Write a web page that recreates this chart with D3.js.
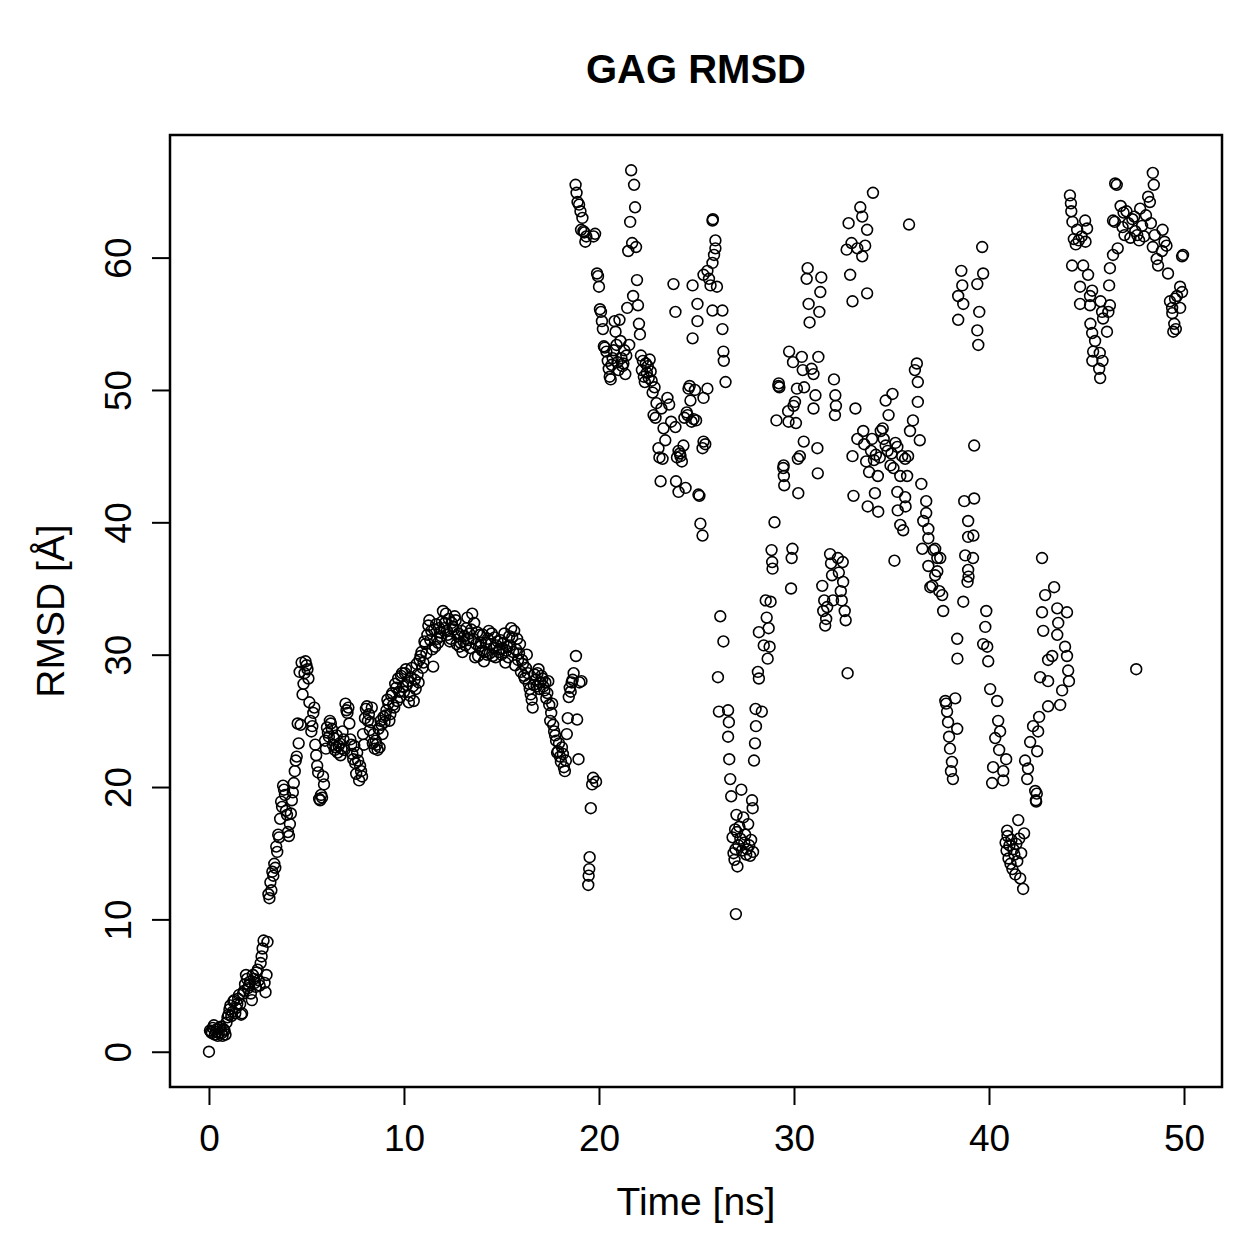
<!DOCTYPE html>
<html>
<head>
<meta charset="utf-8">
<script src="https://cdn.jsdelivr.net/npm/d3@7"></script>
<style>
  body { margin: 0; background: #fff; }
  svg text { font-family: "Liberation Sans", Arial, Helvetica, sans-serif; fill: #000; }
</style>
</head>
<body>
<div id="chart"></div>
<script>
// RMSD of the GAG over the trajectory, time in ns, RMSD in Å
// first part: frames every 0.1 ns from 0 ns, and the frames in between (from 0.05 ns)
var rmsdStart = 0, rmsdStep = 0.1;
var rmsdEarly = [
  0.0, 1.5, 1.8, 1.3, 1.7, 1.4, 1.9, 1.2, 1.6, 2.2,
  2.8, 3.5, 3.0, 3.9, 3.3, 4.0, 3.6, 2.9, 4.6, 5.8,
  4.8, 5.3, 3.9, 5.5, 4.9, 6.2, 5.0, 7.2, 8.4, 4.5,
  8.3, 11.6, 12.2, 13.3, 13.9, 15.1, 16.2, 18.9, 20.1, 19.4,
  17.9, 16.3, 18.0, 19.6, 21.2, 22.3, 23.3, 24.7, 27.0, 28.6,
  29.2, 28.2, 25.0, 24.6, 26.0, 22.4, 21.1, 19.0, 19.2, 20.2,
  22.9, 24.1, 25.0, 24.4, 23.7, 23.0, 22.6, 23.3, 22.9, 23.6,
  26.3, 25.6, 24.8, 23.2, 22.1, 21.8, 22.6, 20.5, 21.2, 24.0,
  25.2, 26.1, 25.5, 24.9, 23.3, 22.9, 23.2, 24.4, 25.0, 24.0,
  24.9, 25.8, 26.3, 25.5, 27.1, 26.0, 27.5, 28.2, 26.8, 28.6,
  27.2, 28.9, 28.0, 26.9, 29.0, 26.5, 27.4, 28.5, 29.6, 30.2,
  29.4, 30.8, 31.5, 32.6, 31.8, 29.1, 30.6, 31.2, 32.0, 31.4,
  33.3, 32.4, 31.8, 32.7, 31.2, 32.1, 32.9, 30.8, 31.6, 30.9,
  30.2, 31.4, 32.0, 31.1, 30.5, 33.1, 32.4, 30.8, 29.9, 31.5,
  30.3, 29.5, 30.9, 31.2, 30.1, 31.6, 30.5, 29.8, 31.0, 30.4,
  30.0, 30.9, 29.4, 30.6, 31.4, 32.0, 30.2, 29.2, 31.2, 30.1,
  28.7, 29.3, 28.2, 30.0, 27.8, 27.0, 26.0, 28.5, 27.6, 28.9,
  27.9, 28.2, 27.3, 26.7, 28.0, 25.0, 26.3, 24.2, 23.5, 22.7,
  22.3, 23.0, 21.5, 22.0, 25.2, 27.5, 27.9, 28.6
];
var rmsdMidStart = 0.05;
var rmsdEarlyMid = [
  1.6, 1.4, 2.0, 1.5, 1.2, 1.8, 1.4, 1.7, 1.3, 2.6,
  3.2, 2.7, 3.8, 2.9, 3.6, 4.3, 2.8, 4.4, 5.1, 5.5,
  5.0, 4.4, 5.8, 5.2, 6.0, 5.4, 6.7, 7.8, 5.2, 5.8,
  11.9, 12.8, 13.6, 14.2, 15.5, 16.4, 17.6, 18.5, 19.8, 18.2,
  16.6, 17.2, 19.0, 20.3, 22.0, 24.8, 28.7, 29.4, 27.8, 29.5,
  28.9, 26.4, 24.2, 25.6, 23.2, 21.6, 19.1, 19.4, 20.8, 23.5,
  24.5, 23.8, 24.8, 23.2, 22.8, 23.9, 23.1, 22.4, 24.2, 22.8,
  25.8, 26.0, 23.6, 22.5, 23.1, 21.0, 22.0, 21.6, 20.8, 23.2,
  25.9, 25.0, 24.3, 26.0, 24.0, 23.5, 22.8, 23.0, 24.7, 25.3,
  25.4, 26.6, 25.0, 26.9, 26.2, 27.8, 26.5, 27.2, 28.4, 27.6,
  28.6, 27.7, 26.4, 28.3, 27.6, 28.1, 29.3, 27.9, 29.9, 29.0,
  31.0, 30.1, 32.2, 31.1, 30.4, 31.9, 32.3, 30.9, 31.7, 32.5,
  32.0, 33.1, 31.5, 31.0, 32.4, 31.9, 32.6, 31.4, 30.6, 31.8,
  31.0, 30.7, 32.8, 31.6, 31.9, 31.2, 29.8, 31.7, 30.6, 30.9,
  31.5, 30.2, 30.0, 31.8, 30.8, 29.9, 31.3, 30.7, 30.2, 31.1,
  30.5, 31.6, 30.3, 29.8, 30.7, 31.3, 31.8, 30.4, 29.6, 30.8,
  29.6, 28.4, 29.0, 28.6, 27.4, 26.6, 27.7, 28.1, 28.6, 27.4,
  28.4, 27.6, 27.9, 27.1, 26.2, 25.6, 24.7, 23.9, 22.6, 23.3,
  21.9, 22.5, 21.2, 24.0, 26.8, 27.2, 28.1
];

// later part, where the RMSD jumps between levels: [time, rmsd]
var late19to22 = [
  [18.80,65.5],[18.82,29.9],[18.85,64.9],[18.88,25.1],[18.90,64.2],[18.95,22.1],[18.98,64.0],[19.00,27.9],
  [19.05,63.5],[19.08,62.1],[19.10,28.0],[19.15,63.0],[19.20,62.0],[19.25,61.9],[19.30,61.2],[19.35,61.6],
  [19.45,12.6],[19.47,13.3],[19.50,13.8],[19.52,14.7],[19.58,18.4],[19.65,20.2],[19.70,20.7],[19.72,61.6],
  [19.80,61.8],[19.85,20.4],[19.90,58.8],[19.95,58.6],[20.00,57.8],[20.05,56.1],[20.10,55.9],[20.15,55.2],
  [20.20,54.6],[20.25,53.3],[20.30,53.2],[20.38,52.9],[20.45,52.2],[20.50,51.6],[20.55,51.0],[20.60,50.8],
  [20.65,51.9],[20.70,52.4],[20.75,53.0],[20.80,55.2],[20.85,54.4],[20.90,53.4],[20.95,52.1],[21.00,51.5],
  [21.05,55.3],[21.10,53.7],[21.15,52.4],[21.20,51.8],[21.25,52.0],[21.30,53.0],[21.35,51.2],[21.40,52.6],
  [21.45,56.2],[21.50,60.5],[21.55,53.4],[21.60,62.7],[21.65,66.6],[21.70,61.1],[21.75,57.1],[21.80,65.5],
  [21.85,63.8],[21.90,60.8],[21.95,58.3],[22.00,56.4],[22.05,55.0],[22.10,54.2],[22.15,52.6],[22.20,51.5],
  [22.25,52.2],[22.30,51.0],[22.35,50.6],[22.40,52.0],[22.45,51.3]
];
var late22to27 = [
  [22.50,51.8],[22.55,50.9],[22.60,52.3],[22.65,51.4],[22.70,50.7],[22.75,49.8],[22.80,48.1],[22.85,50.2],
  [22.90,47.9],[22.95,49.0],[23.05,45.6],[23.10,44.9],[23.16,43.1],[23.20,48.6],[23.26,44.8],[23.31,47.1],
  [23.40,46.2],[23.51,49.4],[23.60,48.9],[23.70,47.6],[23.82,58.0],[23.92,55.9],[23.92,47.2],[23.95,43.1],
  [24.00,44.9],[24.08,45.4],[24.08,42.3],[24.15,45.2],[24.18,45.0],[24.25,44.6],[24.33,45.8],[24.38,47.9],
  [24.44,42.6],[24.50,48.3],[24.54,48.1],[24.59,50.1],[24.65,50.3],[24.69,49.2],[24.75,47.6],[24.80,57.9],
  [24.80,53.9],[24.85,47.8],[24.92,50.0],[24.98,47.7],[25.05,56.5],[25.05,55.2],[25.10,42.1],[25.15,42.0],
  [25.20,39.9],[25.31,39.0],[25.31,45.6],[25.36,46.1],[25.36,49.4],[25.36,58.7],[25.45,45.9],[25.56,59.0],
  [25.56,50.1],[25.64,58.4],[25.72,57.9],[25.82,62.8],[25.84,62.9],[25.82,59.6],[25.90,60.2],[25.97,61.3],
  [25.97,60.7],[25.82,56.0],[26.05,57.8],[26.10,28.3],[26.15,25.7],[26.22,32.9],[26.33,56.0],[26.33,54.6],
  [26.38,31.0],[26.38,52.9],[26.40,52.2],[26.49,50.6],[26.62,25.8],[26.66,24.9],[26.62,23.8],[26.68,22.1],
  [26.73,20.6],[26.78,19.3]
];
var late27to31 = [
  [26.85,16.2],[26.90,15.0],[26.95,14.5],[26.98,16.8],[27.00,15.3],[27.02,10.4],[27.05,17.9],[27.08,16.6],
  [27.10,14.0],[27.15,15.6],[27.20,17.0],[27.25,16.1],[27.30,19.8],[27.33,15.2],[27.40,17.7],[27.45,15.8],
  [27.50,16.4],[27.55,14.9],[27.60,15.3],[27.65,17.2],[27.70,15.6],[27.75,14.8],[27.80,16.0],[27.85,19.0],
  [27.88,18.4],[27.90,15.1],[27.95,22.0],[28.00,23.3],[28.05,24.6],[28.03,25.9],[28.15,28.7],[28.20,28.2],
  [28.20,31.7],[28.35,25.7],[28.45,30.7],[28.55,34.1],[28.60,32.8],[28.65,29.7],[28.70,32.0],[28.75,30.6],
  [28.80,34.0],[28.85,37.9],[28.88,37.0],[28.90,36.5],[29.00,40.0],[29.10,47.7],[29.20,50.3],[29.22,50.5],
  [29.25,50.2],[29.45,44.1],[29.47,44.3],[29.48,43.5],[29.50,42.8],[29.70,48.4],[29.72,47.6],[29.75,52.9],
  [29.85,35.0],[29.88,37.3],[29.92,38.0],[29.95,52.1],[29.98,48.8],[30.05,49.1],[30.10,47.5],[30.15,50.1],
  [30.20,44.8],[30.22,42.2],[30.30,45.0],[30.40,52.5],[30.45,51.5],[30.50,46.1],[30.52,50.2],[30.65,58.4],
  [30.70,59.2],[30.75,56.5],[30.80,55.1],[30.90,51.6],[31.00,51.2],[31.00,48.6],[31.10,49.6],[31.20,45.6],
  [31.22,43.7],[31.25,52.5],[31.30,55.9],[31.35,57.4],[31.40,58.5]
];
var late31to36 = [
  [31.45,35.2],[31.50,33.3],[31.55,34.1],[31.60,32.2],[31.65,32.7],[31.70,33.6],[31.85,37.6],[31.90,36.9],
  [31.95,36.0],[32.00,34.1],[32.05,50.8],[32.12,49.6],[32.15,48.8],[32.10,48.1],[32.25,37.3],[32.30,36.2],
  [32.40,34.8],[32.45,34.1],[32.50,37.0],[32.52,35.5],[32.60,33.3],[32.65,32.6],[32.70,60.6],[32.75,28.6],
  [32.80,62.6],[32.88,58.7],[32.95,61.1],[33.00,56.7],[33.00,45.0],[33.05,42.0],[33.15,48.6],[33.25,46.3],
  [33.25,60.7],[33.40,63.8],[33.50,63.1],[33.50,60.1],[33.55,46.9],[33.60,45.9],[33.65,60.9],[33.70,44.6],
  [33.75,62.1],[33.75,57.3],[33.78,41.2],[33.85,43.8],[33.95,45.4],[34.00,46.3],[34.05,64.9],[34.10,44.7],
  [34.15,42.2],[34.20,45.1],[34.30,43.5],[34.32,40.8],[34.40,44.9],[34.45,46.9],[34.55,47.1],[34.60,46.3],
  [34.70,45.8],[34.70,49.2],[34.80,45.4],[34.85,48.1],[34.95,44.3],[35.00,45.2],[35.05,49.7],[35.10,44.1],
  [35.15,37.1],[35.20,46.0],[35.30,45.7],[35.30,42.3],[35.32,40.9],[35.45,43.5],[35.45,39.8],[35.55,45.0],
  [35.60,39.4],[35.70,44.8],[35.70,41.9],[35.72,41.2],[35.80,43.5],[35.85,45.0],[35.90,62.5],[35.95,46.9],
  [36.10,47.7],[36.20,51.5],[36.30,52.0],[36.35,50.6],[36.35,49.1],[36.45,46.2]
];
var late36to40 = [
  [36.53,42.9],[36.58,38.0],[36.63,40.1],[36.78,41.6],[36.78,40.7],[36.89,39.5],[36.89,38.8],[36.89,36.7],
  [36.99,35.1],[37.09,35.2],[37.15,37.9],[37.24,38.0],[37.24,36.0],[37.35,37.3],[37.35,36.3],[37.45,34.8],
  [37.50,37.3],[37.60,34.5],[37.65,33.3],[37.76,26.5],[37.80,26.3],[37.85,25.7],[37.90,24.9],[37.95,23.8],
  [38.00,22.9],[38.05,21.2],[38.10,21.9],[38.15,20.6],[38.27,26.7],[38.37,24.4],[38.37,31.2],[38.38,29.7],
  [38.42,57.1],[38.42,55.3],[38.58,59.0],[38.63,57.9],[38.68,56.5],[38.68,34.0],[38.73,41.6],[38.78,37.5],
  [38.93,40.1],[38.93,38.9],[38.93,36.4],[38.95,35.9],[38.90,35.5],[39.24,41.8],[39.20,39.0],[39.18,37.3],
  [39.24,45.8],[39.40,58.0],[39.40,54.5],[39.45,53.4],[39.50,55.9],[39.65,60.8],[39.70,58.8],[39.70,30.8],
  [39.86,33.3],[39.81,32.1],[39.91,30.6],[39.96,29.5],[40.06,27.4]
];
var late40to44 = [
  [40.16,20.3],[40.21,21.5],[40.32,23.7],[40.42,26.5],[40.47,25.0],[40.52,22.8],[40.57,24.2],[40.73,21.2],
  [40.73,20.5],[40.88,22.1],[40.93,16.7],[40.85,15.8],[40.90,15.2],[40.95,16.3],[41.00,14.6],[41.05,15.6],
  [41.10,14.2],[41.15,16.0],[41.20,13.8],[41.25,15.3],[41.30,14.9],[41.35,13.4],[41.40,15.7],[41.45,14.4],
  [41.50,17.5],[41.55,16.1],[41.60,13.1],[41.65,15.0],[41.75,12.3],[41.80,16.5],[41.85,22.0],[41.96,20.6],
  [42.00,21.4],[42.11,23.4],[42.26,24.6],[42.37,19.7],[42.42,18.9],[42.47,22.7],[42.45,19.5],[42.40,19.0],
  [42.52,24.2],[42.57,25.3],[42.62,28.3],[42.72,37.3],[42.72,33.2],[42.78,31.8],[42.88,34.5],[43.03,28.0],
  [43.03,29.6],[43.03,26.1],[43.24,29.9],[43.34,35.1],[43.50,33.5],[43.50,31.5],[43.55,32.4],[43.65,26.2],
  [43.75,27.3],[43.90,30.6],[44.00,33.2],[44.00,29.9],[44.06,28.8],[44.10,28.0]
];
var late44to50 = [
  [44.15,64.7],[44.20,64.1],[44.22,63.5],[44.28,62.7],[44.26,59.4],[44.35,61.4],[44.45,61.0],[44.52,62.1],
  [44.60,61.3],[44.67,57.8],[44.67,56.5],[44.75,61.6],[44.83,59.4],[44.93,62.8],[44.95,61.2],[45.03,62.2],
  [45.08,58.7],[45.18,57.1],[45.18,56.4],[45.20,55.0],[45.29,57.5],[45.29,54.3],[45.34,52.9],[45.44,53.7],
  [45.30,52.2],[45.65,51.6],[45.68,52.8],[45.70,50.9],[45.72,56.7],[45.80,55.9],[45.82,52.2],[45.85,55.4],
  [46.05,54.4],[46.12,55.9],[46.16,57.9],[46.20,56.4],[46.20,59.2],[46.36,60.2],[46.36,62.8],[46.45,62.7],
  [46.47,65.6],[46.55,65.5],[46.60,60.7],[46.75,63.9],[46.85,62.3],[46.90,63.4],[46.95,61.7],[47.05,63.5],
  [47.15,62.6],[47.25,61.5],[47.35,62.9],[47.45,63.1],[47.50,62.0],[47.55,28.9],[47.60,61.7],[47.70,61.3],
  [47.75,63.7],[47.85,62.4],[47.95,61.6],[48.05,63.2],[48.16,64.6],[48.25,64.2],[48.30,62.6],[48.40,66.4],
  [48.45,65.5],[48.40,60.8],[48.50,61.7],[48.60,59.9],[48.67,59.4],[48.87,60.5],[48.90,62.1],[49.00,61.2],
  [49.10,60.9],[49.18,58.8],[49.28,56.7],[49.39,56.2],[49.40,55.8],[49.45,54.4],[49.50,55.0],[49.54,56.9],
  [49.58,54.6],[49.64,57.1],[49.80,57.8],[49.80,56.2],[49.90,57.4],[49.90,60.1],[49.95,60.2]
];

var xTicks = [0, 10, 20, 30, 40, 50];
var yTicks = [0, 10, 20, 30, 40, 50, 60];
var chartTitle = "GAG RMSD";
var xLabel = "Time [ns]";
var yLabel = "RMSD [Å]";

// put everything together as {time, rmsd}
var points = [];
rmsdEarly.forEach(function(v, i) {
  points.push({time: +(rmsdStart + i * rmsdStep).toFixed(2), rmsd: v});
});
rmsdEarlyMid.forEach(function(v, i) {
  points.push({time: +(rmsdMidStart + i * rmsdStep).toFixed(2), rmsd: v});
});
[late19to22, late22to27, late27to31, late31to36, late36to40, late40to44, late44to50].forEach(function(seg) {
  seg.forEach(function(p) { points.push({time: p[0], rmsd: p[1]}); });
});

var width = 1259, height = 1259;
var margin = {top: 135, right: 37, bottom: 172, left: 170};
var plotW = width - margin.left - margin.right;
var plotH = height - margin.top - margin.bottom;

// R style axes: data range stretched 4% on each side
function padded(ext) {
  var d = (ext[1] - ext[0]) * 0.04;
  return [ext[0] - d, ext[1] + d];
}

var x = d3.scaleLinear()
  .domain(padded(d3.extent(points, function(d) { return d.time; })))
  .range([0, plotW]);
var y = d3.scaleLinear()
  .domain(padded(d3.extent(points, function(d) { return d.rmsd; })))
  .range([plotH, 0]);

var svg = d3.select("#chart").append("svg")
  .attr("width", width)
  .attr("height", height);

var g = svg.append("g")
  .attr("transform", "translate(" + margin.left + "," + margin.top + ")");

// points
g.append("g")
  .selectAll("circle")
  .data(points)
  .enter().append("circle")
    .attr("cx", function(d) { return x(d.time); })
    .attr("cy", function(d) { return y(d.rmsd); })
    .attr("r", 5.4)
    .attr("fill", "none")
    .attr("stroke", "#000")
    .attr("stroke-width", 1.6);

// x axis
var xAxis = g.append("g")
  .attr("transform", "translate(0," + plotH + ")")
  .call(d3.axisBottom(x).tickValues(xTicks).tickSize(18).tickSizeOuter(0).tickPadding(20));
xAxis.select(".domain").remove();
xAxis.append("line")
  .attr("x1", x(xTicks[0])).attr("x2", x(xTicks[xTicks.length - 1]))
  .attr("stroke", "#000").attr("stroke-width", 2);
xAxis.selectAll(".tick line").attr("stroke-width", 2);
xAxis.selectAll("text")
  .style("font-size", "37px")
  .attr("dy", "0.71em");

// y axis, labels turned like R does with las = 0
var yAxis = g.append("g")
  .call(d3.axisLeft(y).tickValues(yTicks).tickSize(18).tickSizeOuter(0));
yAxis.select(".domain").remove();
yAxis.append("line")
  .attr("y1", y(yTicks[0])).attr("y2", y(yTicks[yTicks.length - 1]))
  .attr("stroke", "#000").attr("stroke-width", 2);
yAxis.selectAll(".tick line").attr("stroke-width", 2);
yAxis.selectAll("text")
  .style("font-size", "37px")
  .attr("x", 0).attr("y", 0).attr("dy", 0)
  .attr("text-anchor", "middle")
  .attr("transform", "translate(-39,0) rotate(-90)");

// box
g.append("rect")
  .attr("width", plotW)
  .attr("height", plotH)
  .attr("fill", "none")
  .attr("stroke", "#000")
  .attr("stroke-width", 2.5);

// titles
svg.append("text")
  .attr("x", margin.left + plotW / 2)
  .attr("y", 83)
  .attr("text-anchor", "middle")
  .style("font-size", "40px")
  .style("font-weight", "bold")
  .text(chartTitle);

svg.append("text")
  .attr("x", margin.left + plotW / 2)
  .attr("y", 1215)
  .attr("text-anchor", "middle")
  .style("font-size", "39px")
  .text(xLabel);

svg.append("text")
  .attr("transform", "translate(64," + (margin.top + plotH / 2) + ") rotate(-90)")
  .attr("text-anchor", "middle")
  .style("font-size", "39px")
  .text(yLabel);
</script>
</body>
</html>
